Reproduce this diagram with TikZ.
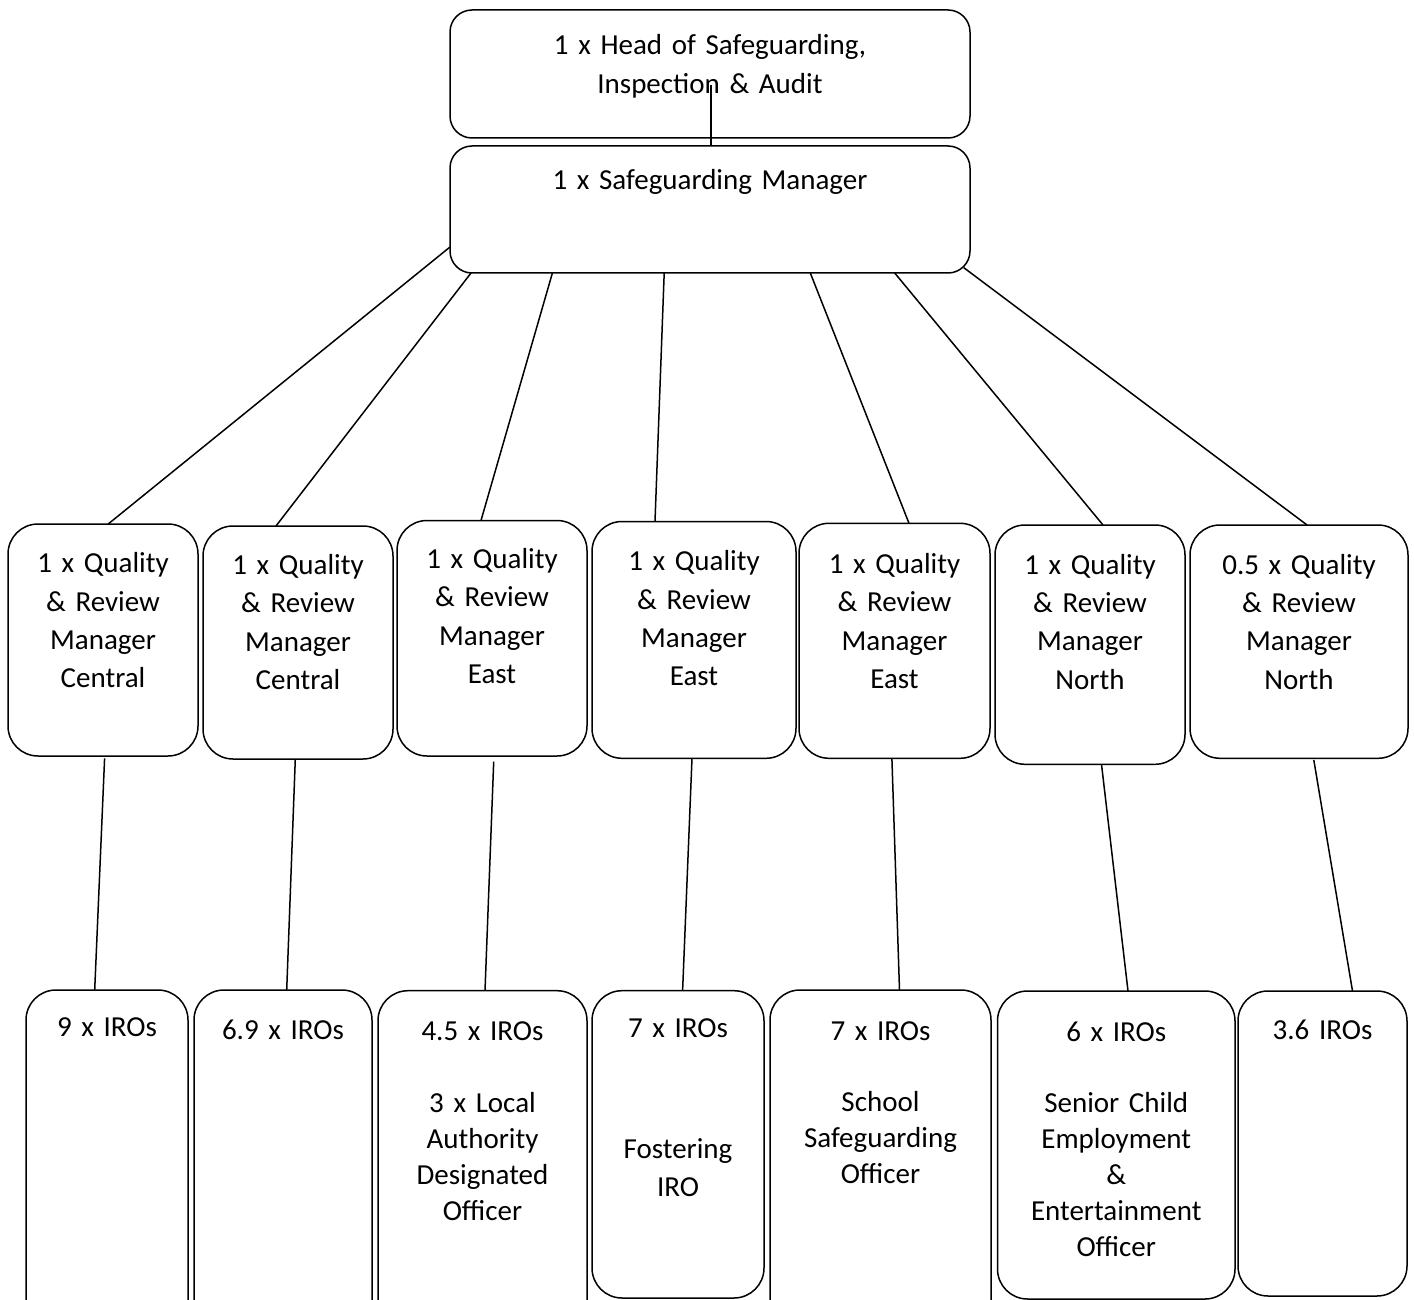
\documentclass[tikz,border=0pt]{standalone}
\usepackage{fontspec}
\setmainfont{Carlito}
\newcommand\orgbox[6]{\node[box, rounded corners=#6pt, minimum width={(#4-#2)*1pt}, minimum height={(#5-#3)*1pt}] (#1) at ({(#2+#4)/2},{(#3+#5)/2}) {};}
\newcommand\tightsp{\spaceskip=0.16em plus 0.02em minus 0.02em\relax}
\begin{document}
\begin{tikzpicture}[x=1pt,y=-1pt,
  box/.style={draw=black, line width=1.5pt, rectangle, inner sep=0pt, outer sep=0pt},
  txt/.style={inner sep=0pt, outer sep=0pt, anchor=base, align=center, text width=260pt},
  mtxt/.style={txt, font=\fontsize{29}{38.4}\selectfont\tightsp},
  btxt/.style={txt, font=\fontsize{29}{36}\selectfont\tightsp},
  htxt/.style={txt, font=\fontsize{29}{39}\selectfont\tightsp, text width=420pt},
  conn/.style={draw=black, line width=1.5pt}]
\useasboundingbox (0,0) rectangle (1414,1300);
\clip (0,0) rectangle (1414,1300);
\fill[white] (0,0) rectangle (1414,1300);

% top boxes
\orgbox{head}{450}{10}{970}{138}{22}
\orgbox{mgr}{450}{146}{970}{273}{22}
\node[htxt] (thead) at ([yshift=-45pt]head.north) {1 x Head of Safeguarding,\\Inspection \& Audit};
\node[htxt] (tmgr) at ([yshift=-44pt]mgr.north) {1 x Safeguarding Manager};

% middle row
\orgbox{q1}{8}{524}{198}{756}{30}
\orgbox{q2}{203}{526}{393}{759}{30}
\orgbox{q3}{397}{520.5}{587}{756}{30}
\orgbox{q4}{592}{521.5}{796}{758.3}{30}
\orgbox{q5}{799}{523.3}{990}{758.3}{30}
\orgbox{q6}{995}{525}{1185}{764.3}{30}
\orgbox{q7}{1190}{525}{1408}{758.3}{30}
\node[mtxt] (tq1) at ([yshift=-48.7pt]q1.north) {1 x Quality\\\& Review\\Manager\\Central};
\node[mtxt] (tq2) at ([yshift=-48.3pt]q2.north) {1 x Quality\\\& Review\\Manager\\Central};
\node[mtxt] (tq3) at ([yshift=-47.8pt]q3.north) {1 x Quality\\\& Review\\Manager\\East};
\node[mtxt] (tq4) at ([yshift=-49.2pt]q4.north) {1 x Quality\\\& Review\\Manager\\East};
\node[mtxt] (tq5) at ([yshift=-50pt]q5.north) {1 x Quality\\\& Review\\Manager\\East};
\node[mtxt] (tq6) at ([yshift=-49pt]q6.north) {1 x Quality\\\& Review\\Manager\\North};
\node[mtxt] (tq7) at ([yshift=-49pt]q7.north) {0.5 x Quality\\\& Review\\Manager\\North};

% bottom row
\orgbox{r1}{26}{990}{188}{1330}{30}
\orgbox{r2}{194}{990}{372}{1330}{30}
\orgbox{r3}{378}{990.7}{587}{1330}{30}
\orgbox{r4}{592}{990.7}{764}{1298}{30}
\orgbox{r5}{770}{990}{991}{1330}{30}
\orgbox{r6}{997.5}{991}{1235}{1299}{30}
\orgbox{r7}{1238}{991}{1407}{1296}{30}
\node[btxt] (tr1) at ([yshift=-46.7pt]r1.north) {9 x IROs};
\node[btxt] (tr2) at ([yshift=-49pt]r2.north) {6.9 x IROs};
\node[btxt] (tr3) at ([yshift=-49.3pt]r3.north) {4.5 x IROs\\[36pt]3 x Local\\Authority\\Designated\\Officer};
\node[btxt] (tr4) at ([yshift=-46.3pt]r4.north) {7 x IROs\\[85pt]Fostering\\[2pt]IRO};
\node[btxt] (tr5) at ([yshift=-50pt]r5.north) {7 x IROs\\[35.7pt]School\\Safeguarding\\Officer};
\node[btxt] (tr6) at ([yshift=-50.7pt]r6.north) {6 x IROs\\[35pt]Senior Child\\Employment\\\&\\Entertainment\\Officer};
\node[btxt] (tr7) at ([yshift=-48pt]r7.north) {3.6 IROs};

% connectors
\draw[conn] ([xshift=1pt,yshift=-11pt]head.center) -- ([xshift=1pt]mgr.north);
\draw[conn] ([yshift=26pt]mgr.south west) -- ([xshift=5.2pt]q1.north);
\draw[conn] ([xshift=-239pt]mgr.south) -- ([xshift=-22pt]q2.north);
\draw[conn] ([xshift=-157.6pt]mgr.south) -- ([xshift=-11pt]q3.north);
\draw[conn] ([xshift=-45.8pt]mgr.south) -- ([xshift=-39pt]q4.north);
\draw[conn] ([xshift=100.3pt]mgr.south) -- ([xshift=14.5pt]q5.north);
\draw[conn] ([xshift=184.7pt]mgr.south) -- ([xshift=13pt]q6.north);
\draw[conn] ([xshift=-6.2pt,yshift=5.3pt]mgr.south east) -- ([xshift=8pt]q7.north);

\draw[conn] ([xshift=1.6pt,yshift=-2.3pt]q1.south) -- ([xshift=-12.3pt]r1.north);
\draw[conn] ([xshift=-2.7pt]q2.south) -- ([xshift=3.7pt]r2.north);
\draw[conn] ([xshift=1.7pt,yshift=-5.7pt]q3.south) -- ([xshift=2.5pt]r3.north);
\draw[conn] ([xshift=-2pt]q4.south) -- ([xshift=4.6pt]r4.north);
\draw[conn] ([xshift=-2.6pt]q5.south) -- ([xshift=19pt]r5.north);
\draw[conn] ([xshift=11.5pt]q6.south) -- ([xshift=11.75pt]r6.north);
\draw[conn] ([xshift=14.8pt,yshift=-1.7pt]q7.south) -- ([xshift=30pt]r7.north);
\end{tikzpicture}
\end{document}
